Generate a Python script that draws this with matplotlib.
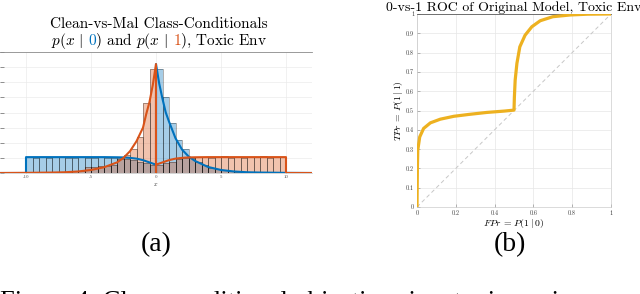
import numpy as np
import matplotlib
matplotlib.use("Agg")
from matplotlib import pyplot as plt
from matplotlib.transforms import Bbox

plt.rcParams["font.family"] = "serif"
plt.rcParams["font.serif"] = ["cmr10", "DejaVu Serif"]
plt.rcParams["mathtext.fontset"] = "cm"
plt.rcParams["axes.unicode_minus"] = False
plt.rcParams["axes.formatter.use_mathtext"] = True

BLUE = "#0072BD"
ORANGE = "#D95319"
YELLOW = "#EDB120"

# ---- (a) class-conditionals (density units) ----
bin_edges = np.arange(-10, 10.01, 0.5)
hist_clean = [0.052, 0.051, 0.052, 0.050, 0.052, 0.053, 0.050, 0.051, 0.052, 0.051,
              0.050, 0.053, 0.051, 0.050,
              0.048, 0.045, 0.042, 0.038, 0.033, 0.028,
              0.345, 0.250, 0.165, 0.110, 0.080, 0.052,
              0.035, 0.025, 0.018, 0.013, 0.009, 0.006, 0.004, 0.003, 0.0025, 0.002,
              0.0015, 0.001, 0.001, 0.0005]
hist_mal = [0.001, 0.0015, 0.0015, 0.002, 0.0025, 0.003, 0.004, 0.006, 0.008, 0.020,
            0.020, 0.022, 0.023, 0.028,
            0.045, 0.060, 0.080, 0.120, 0.230, 0.345,
            0.026, 0.032, 0.038, 0.045, 0.048, 0.050,
            0.052, 0.054, 0.051, 0.052, 0.055, 0.051, 0.053, 0.050, 0.054, 0.052,
            0.055, 0.051, 0.053, 0.052]

x_clean = [-12, -10, -10, -8, -6, -4, -3, -2.5, -2, -1.5, -1, -0.5, 0, 0, 0,
           0.25, 0.5, 0.75, 1, 1.5, 2, 2.5, 3, 4, 5, 6, 7, 8, 10, 12]
p_clean = [0, 0, 0.0525, 0.0525, 0.0525, 0.0525, 0.052, 0.0515, 0.050, 0.0475, 0.0425,
           0.035, 0.0275, 0, 0.36,
           0.295, 0.245, 0.200, 0.170, 0.115, 0.0775, 0.055, 0.040, 0.020, 0.010,
           0.005, 0.0025, 0.0015, 0.0005, 0]
x_mal = [-12, -10, -8, -7, -6, -5, -4, -3, -2.5, -2, -1.5, -1, -0.75, -0.5, -0.25, 0, 0, 0,
         0.5, 1, 1.5, 2, 2.5, 3, 4, 6, 8, 10, 10, 12]
p_mal = [0, 0.0005, 0.0015, 0.0025, 0.005, 0.010, 0.019, 0.035, 0.050, 0.072, 0.105,
         0.150, 0.195, 0.235, 0.290, 0.36, 0, 0.0275,
         0.035, 0.0425, 0.0475, 0.050, 0.0515, 0.052, 0.0525, 0.0525, 0.0525, 0.0525, 0, 0]

# ---- (b) ROC curve ----
fpr = [0, 0.002, 0.004, 0.014, 0.034, 0.069, 0.12, 0.19, 0.27, 0.36, 0.45, 0.5,
       0.502, 0.506, 0.515, 0.53, 0.557, 0.592, 0.635, 0.70, 0.79, 0.88, 1.0]
tpr = [0, 0.2, 0.295, 0.363, 0.407, 0.436, 0.455, 0.47, 0.48, 0.49, 0.497, 0.502,
       0.57, 0.657, 0.744, 0.83, 0.89, 0.934, 0.965, 0.986, 0.995, 0.999, 1.0]

W, H = 640, 294
fig = plt.figure(figsize=(W / 100, H / 100), dpi=100)


def box(x0, y0, x1, y1):
    # pixel box (top-left origin) -> figure rect
    return [x0 / W, 1 - y1 / H, (x1 - x0) / W, (y1 - y0) / H]


# ---------------- left panel ----------------
ax = fig.add_axes(box(0, 52, 312, 173))
widths = np.diff(bin_edges)
ax.bar(bin_edges[:-1], hist_clean, width=widths, align="edge", color=BLUE, alpha=0.35,
       edgecolor="none", zorder=2)
ax.bar(bin_edges[:-1], hist_mal, width=widths, align="edge", color=ORANGE, alpha=0.35,
       edgecolor="none", zorder=2)
ax.bar(bin_edges[:-1], hist_clean, width=widths, align="edge", fill=False,
       edgecolor=(0, 0, 0, 0.45), lw=0.5, zorder=3)
ax.bar(bin_edges[:-1], hist_mal, width=widths, align="edge", fill=False,
       edgecolor=(0, 0, 0, 0.45), lw=0.5, zorder=3)
ax.plot(x_clean, p_clean, color=BLUE, lw=1.5, zorder=4)
ax.plot(x_mal, p_mal, color=ORANGE, lw=1.5, zorder=5)
ax.set_xlim(-12, 12)
ax.set_ylim(0, 0.4)
ax.set_xticks([-10, -5, 0, 5, 10])
ax.set_xticklabels(["-10", "-5", "0", "5", "10"], fontsize=3.5, color="0.3")
ax.set_yticks(np.arange(0, 0.401, 0.05))
ax.tick_params(axis="y", direction="in", length=3, width=0.5, color="0.4", labelleft=False)
ax.tick_params(axis="x", direction="in", length=1.5, width=0.4, color="0.5", pad=1.5)
ax.grid(True, color="0.92", lw=0.5, zorder=0)
ax.set_axisbelow(True)
for s in ["left", "right"]:
    ax.spines[s].set_visible(False)
ax.spines["top"].set_color("0.55")
ax.spines["top"].set_linewidth(0.6)
ax.spines["bottom"].set_color("0.7")
ax.spines["bottom"].set_linewidth(0.4)
ax.set_xlabel("$x$", fontsize=4.5, labelpad=1.5, color="0.2")

fig.text(159 / W, 1 - 28 / H, "Clean-vs-Mal Class-Conditionals", ha="center",
         va="baseline", fontsize=11)

# second title line: black line clipped around the two digits, digits drawn in colour
renderer = fig.canvas.get_renderer()
line2 = r"$p(x\,\mid\,0)$ and $p(x\,\mid\,1)$, Toxic Env"
ty = 1 - 45 / H
probe = fig.text(0, ty, line2, fontsize=11, va="baseline")
bb = probe.get_window_extent(renderer)
probe.remove()
x0 = (159 - bb.width / 2) / W

digits = []
for prefix, digit, col in [(r"$p(x\,\mid\,0$", "$0$", BLUE),
                           (r"$p(x\,\mid\,0)$ and $p(x\,\mid\,1$", "$1$", ORANGE)]:
    p = fig.text(x0, ty, prefix, fontsize=11, va="baseline")
    right = p.get_window_extent(renderer).x1
    p.remove()
    d = fig.text(right / W, ty, digit, fontsize=11, va="baseline", ha="right", color=col)
    digits.append(d.get_window_extent(renderer))

lo, hi = bb.y0 - 10, bb.y1 + 10
cuts = [x0 * W - 5, digits[0].x0, digits[0].x1, digits[1].x0, digits[1].x1, x0 * W + bb.width + 5]
for a, b in zip(cuts[0::2], cuts[1::2]):
    t = fig.text(x0, ty, line2, fontsize=11, va="baseline")
    t.set_clip_box(Bbox([[a, lo], [b, hi]]))
    t.set_clip_on(True)

# ---------------- right panel ----------------
ax2 = fig.add_axes(box(417, 14, 611, 207))
ax2.plot([0, 1], [0, 1], ls="--", color="0.78", lw=0.7, dashes=(4, 3), zorder=2)
ax2.plot(fpr, tpr, color=YELLOW, lw=2.3, zorder=3)
ax2.set_xlim(0, 1)
ax2.set_ylim(0, 1)
ax2.set_xticks(np.arange(0, 1.01, 0.2))
ax2.set_xticklabels(["0", "0.2", "0.4", "0.6", "0.8", "1"], fontsize=4.5, color="0.25")
ax2.set_yticks(np.arange(0, 1.01, 0.1))
ax2.set_yticklabels(["0", "0.1", "0.2", "0.3", "0.4", "0.5", "0.6", "0.7", "0.8", "0.9", "1"],
                    fontsize=4.5, color="0.25")
ax2.tick_params(direction="in", length=2, width=0.4, color="0.5", pad=2)
ax2.grid(True, color="0.9", lw=0.5)
ax2.set_axisbelow(True)
for s in ["left", "right", "bottom"]:
    ax2.spines[s].set_color("0.75")
    ax2.spines[s].set_linewidth(0.4)
ax2.spines["top"].set_color("0.35")
ax2.spines["top"].set_linewidth(0.6)
ax2.set_title("0-vs-1 ROC of Original Model, Toxic Env", fontsize=10, pad=2.5)
ax2.set_xlabel(r"$FPr\, =\, P(1 \mid 0)$", fontsize=7, labelpad=1)
ax2.set_ylabel(r"$TPr\, =\, P(1 \mid 1)$", fontsize=7, labelpad=1)

# ---------------- sub-captions and figure caption ----------------
cap = ["Liberation Serif", "DejaVu Serif"]
fig.text(156 / W, 1 - 251 / H, "(a)", ha="center", va="baseline", fontsize=20, family=cap)
fig.text(510 / W, 1 - 251 / H, "(b)", ha="center", va="baseline", fontsize=20, family=cap)
fig.text(0, 1 - 308 / H,
         "Figure 4: Class-conditional objectives in a toxic environment and the resulting ROC",
         ha="left", va="baseline", fontsize=19, family=cap)

fig.savefig("out.png", dpi=100)
